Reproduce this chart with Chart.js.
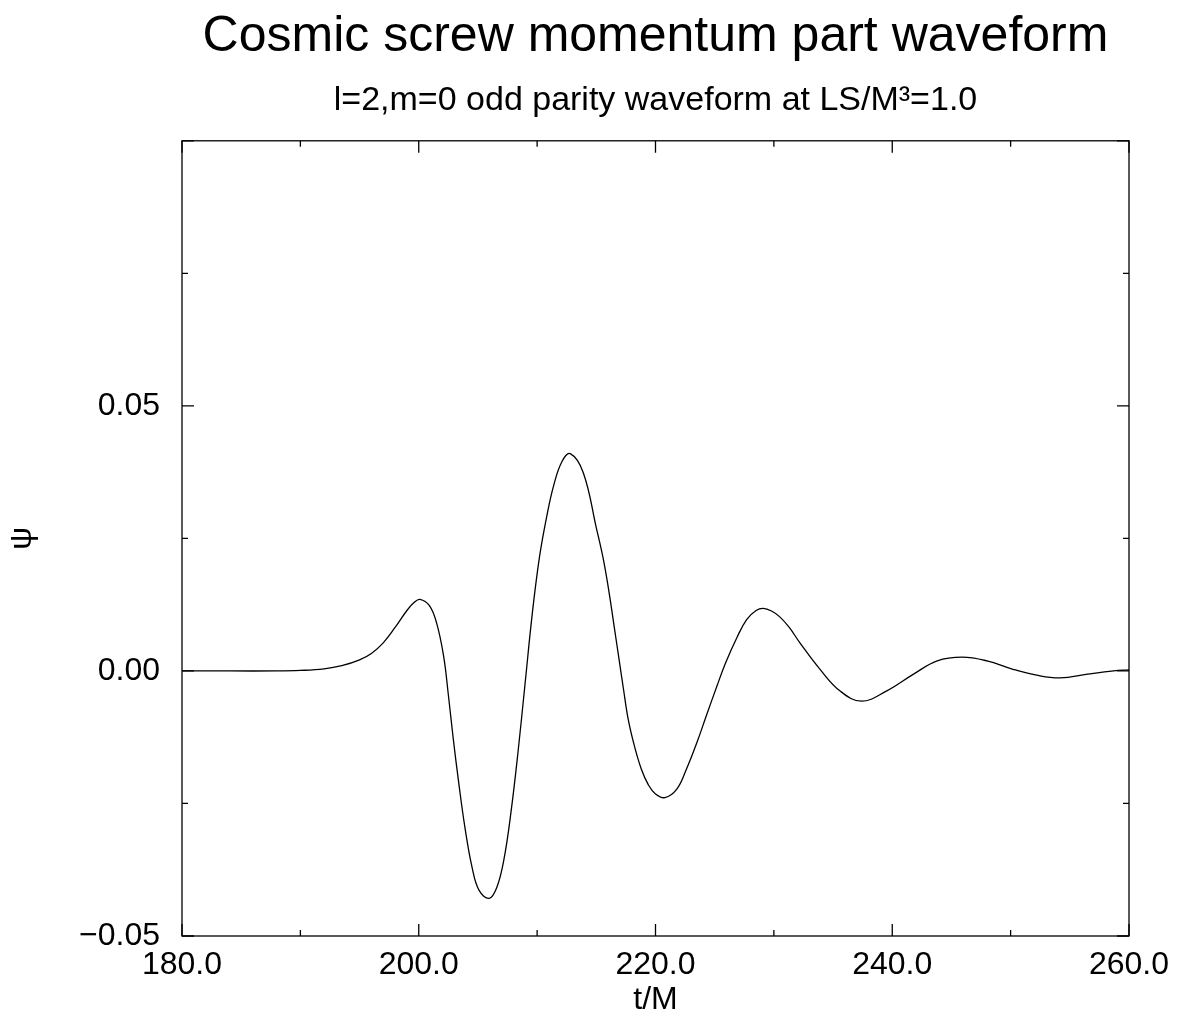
<!DOCTYPE html>
<html>
<head>
<meta charset="utf-8">
<title>Cosmic screw momentum part waveform</title>
<script src="https://cdn.jsdelivr.net/npm/chart.js@4.4.1/dist/chart.umd.min.js"></script>
<style>
    html, body { margin: 0; padding: 0; background: #fff; }
    #wrap { width: 1183px; height: 1027px; }
</style>
</head>
<body>
<div id="wrap"><canvas id="wave-chart" width="1183" height="1027"></canvas></div>
<script>
// Waveform samples
const tValues = [
    180.0, 184.0, 188.0, 190.0, 192.0, 193.5, 195.0, 196.0, 197.0, 198.0,
    199.0, 199.6, 200.1, 200.9, 201.5, 202.1, 202.5, 202.9, 203.4, 203.9,
    204.5, 205.1, 205.95, 206.6, 207.2, 207.8, 208.4, 209.0, 209.6, 210.2,
    210.8, 211.4, 212.1, 212.8, 213.9, 215.0, 215.6, 216.1, 216.5, 216.9,
    217.3, 217.7, 218.2, 218.8, 219.4, 220.0, 220.8, 221.8, 222.6, 223.5,
    224.3, 225.2, 225.9, 226.9, 227.7, 228.5, 229.1, 229.8, 230.5, 231.3,
    232.2, 233.9, 235.6, 237.4, 239.5, 241.8, 243.8, 245.9, 248.0, 250.2,
    252.2, 254.2, 256.5, 258.7, 260.0
];
const psiValues = [
    0.0000, 0.0000, 0.0000, 0.0001, 0.0004, 0.0010, 0.0021, 0.0033, 0.0053, 0.0082,
    0.0114, 0.0129, 0.0135, 0.0123, 0.0091, 0.0028, -0.0045, -0.0125, -0.0215, -0.0295,
    -0.0370, -0.0414, -0.0429, -0.0408, -0.0355, -0.0265, -0.0150, -0.0020, 0.0110, 0.0215,
    0.0290, 0.0350, 0.0395, 0.0410, 0.0374, 0.0270, 0.0210, 0.0145, 0.0085, 0.0025,
    -0.0035, -0.0092, -0.0140, -0.0185, -0.0215, -0.0232, -0.0239, -0.0223, -0.0186, -0.0135,
    -0.0084, -0.0028, 0.0014, 0.0064, 0.0097, 0.0114, 0.0118, 0.0113, 0.0102, 0.0082,
    0.0053, 0.0003, -0.0038, -0.0057, -0.0038, -0.0006, 0.0019, 0.0026, 0.0019, 0.0003,
    -0.0008, -0.0013, -0.0006, 0.0000, 0.0002
];

// Axis ranges and labelled ticks
const xRange = [180, 260];
const xLabelTicks = [180, 200, 220, 240, 260];
const yRange = [-0.05, 0.10];
const yLabelTicks = [-0.05, 0.00, 0.05];

const FONT = '"Liberation Sans", Arial, Helvetica, sans-serif';

function isLabelled(list, v) {
    return list.some(t => Math.abs(t - v) < 1e-9);
}

// White background + closed frame + inward ticks on all four sides
const framePlugin = {
    id: 'frame',
    beforeDraw(chart) {
        const c = chart.ctx;
        c.save();
        c.fillStyle = '#fff';
        c.fillRect(0, 0, chart.width, chart.height);
        c.restore();
    },
    afterDraw(chart) {
        const c = chart.ctx;
        const a = chart.chartArea;
        const xs = chart.scales.x;
        const ys = chart.scales.y;
        c.save();
        c.strokeStyle = '#000';
        c.lineWidth = 1.3;
        c.strokeRect(a.left, a.top, a.right - a.left, a.bottom - a.top);
        c.beginPath();
        xs.ticks.forEach(tick => {
            const px = xs.getPixelForValue(tick.value);
            const len = tick.value % 20 === 0 ? 12 : 6;
            c.moveTo(px, a.bottom);
            c.lineTo(px, a.bottom - len);
            c.moveTo(px, a.top);
            c.lineTo(px, a.top + len);
        });
        ys.ticks.forEach(tick => {
            const py = ys.getPixelForValue(tick.value);
            const major = Math.abs(Math.round(tick.value / 0.05) * 0.05 - tick.value) < 1e-9;
            const len = major ? 12 : 6;
            c.moveTo(a.left, py);
            c.lineTo(a.left + len, py);
            c.moveTo(a.right, py);
            c.lineTo(a.right - len, py);
        });
        c.stroke();
        c.restore();
    }
};

new Chart(document.getElementById('wave-chart'), {
    type: 'line',
    data: {
        labels: tValues,
        datasets: [{
            data: tValues.map((t, i) => ({ x: t, y: psiValues[i] })),
            borderColor: '#000',
            borderWidth: 1.3,
            pointRadius: 0,
            fill: false,
            tension: 0.4
        }]
    },
    options: {
        responsive: false,
        animation: false,
        layout: {
            padding: { left: 0, right: 54, top: 0, bottom: 0 }
        },
        plugins: {
            legend: { display: false },
            tooltip: { enabled: false },
            title: {
                display: true,
                fullSize: false,
                text: 'Cosmic screw momentum part waveform',
                color: '#000',
                font: { family: FONT, size: 50, weight: 'normal', lineHeight: 1.2 },
                padding: { top: 7, bottom: 0 }
            },
            subtitle: {
                display: true,
                fullSize: false,
                text: 'l=2,m=0 odd parity waveform at LS/M\u00B3=1.0',
                color: '#000',
                font: { family: FONT, size: 34, weight: 'normal', lineHeight: 1.2 },
                padding: { top: 13, bottom: 20 }
            }
        },
        scales: {
            x: {
                type: 'linear',
                min: xRange[0],
                max: xRange[1],
                afterFit(scale) { scale.height = 91; },
                grid: { display: false },
                border: { display: false },
                ticks: {
                    stepSize: 10,
                    autoSkip: false,
                    maxRotation: 0,
                    padding: 2,
                    color: '#000',
                    font: { family: FONT, size: 32 },
                    callback: v => isLabelled(xLabelTicks, v) ? v.toFixed(1) : ''
                },
                title: {
                    display: true,
                    text: 't/M',
                    color: '#000',
                    font: { family: FONT, size: 32 },
                    padding: { top: 0, bottom: 8 }
                }
            },
            y: {
                type: 'linear',
                min: yRange[0],
                max: yRange[1],
                afterFit(scale) { scale.width = 182; },
                grid: { display: false },
                border: { display: false },
                ticks: {
                    stepSize: 0.025,
                    autoSkip: false,
                    padding: 14,
                    color: '#000',
                    font: { family: FONT, size: 32 },
                    callback: v => {
                        if (!isLabelled(yLabelTicks, v)) return '';
                        const s = Math.abs(v).toFixed(2);
                        return v < -1e-9 ? '\u2212' + s : s;
                    }
                },
                title: {
                    display: true,
                    text: '\u03C8',
                    color: '#000',
                    font: { family: FONT, size: 32 },
                    padding: { top: 3, bottom: 0 }
                }
            }
        }
    },
    plugins: [framePlugin]
});
</script>
</body>
</html>
